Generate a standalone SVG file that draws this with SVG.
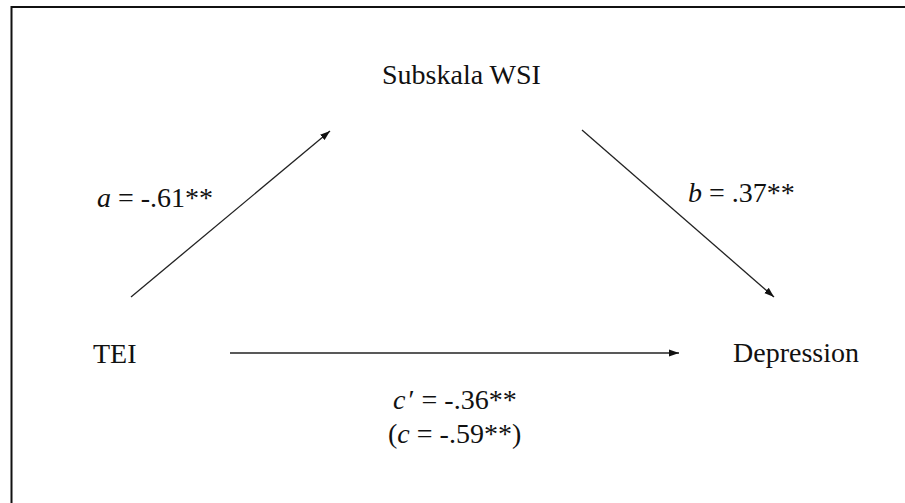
<svg xmlns="http://www.w3.org/2000/svg" width="905" height="503" viewBox="0 0 905 503">
<style>
  text { font-family: 'Liberation Serif', 'DejaVu Serif', serif; font-size: 28px; fill: #111; }
  .i { font-style: italic; }
  .c { stroke: #222; stroke-width: 1.3; fill: none; }
  .frame { stroke: #111; stroke-width: 2; fill: none; }
</style>
<defs>
  <marker id="ah" markerUnits="userSpaceOnUse" markerWidth="11" markerHeight="8" refX="10" refY="4" orient="auto">
    <path d="M0,0.5 L10,4 L0,7.5 z" fill="#111"/>
  </marker>
</defs>
<rect width="905" height="503" fill="#fff"/>
<path class="frame" d="M11.5,503 L11.5,7 L905,7"/>
<g id="node-wsi"><text font-family="Liberation Serif, serif" x="382" y="84">Subskala WSI</text></g>
<g id="node-tei"><text font-family="Liberation Serif, serif" x="93" y="363">TEI</text></g>
<g id="node-depression"><text font-family="Liberation Serif, serif" x="733" y="362">Depression</text></g>
<g id="connectors">
  <line class="c" x1="131" y1="297" x2="330" y2="131" marker-end="url(#ah)"/>
  <line class="c" x1="582" y1="130" x2="774" y2="297" marker-end="url(#ah)"/>
  <line class="c" x1="230" y1="353" x2="679" y2="353" marker-end="url(#ah)"/>
</g>
<g id="labels" font-family="Liberation Serif, serif">
  <text x="97" y="207"><tspan class="i">a</tspan> = -.61**</text>
  <text x="688" y="202"><tspan class="i">b</tspan> = .37**</text>
  <text x="393" y="409"><tspan class="i">c</tspan><tspan dx="3">′</tspan> = -.36**</text>
  <text x="388" y="443">(<tspan class="i">c</tspan> = -.59**)</text>
</g>
</svg>
